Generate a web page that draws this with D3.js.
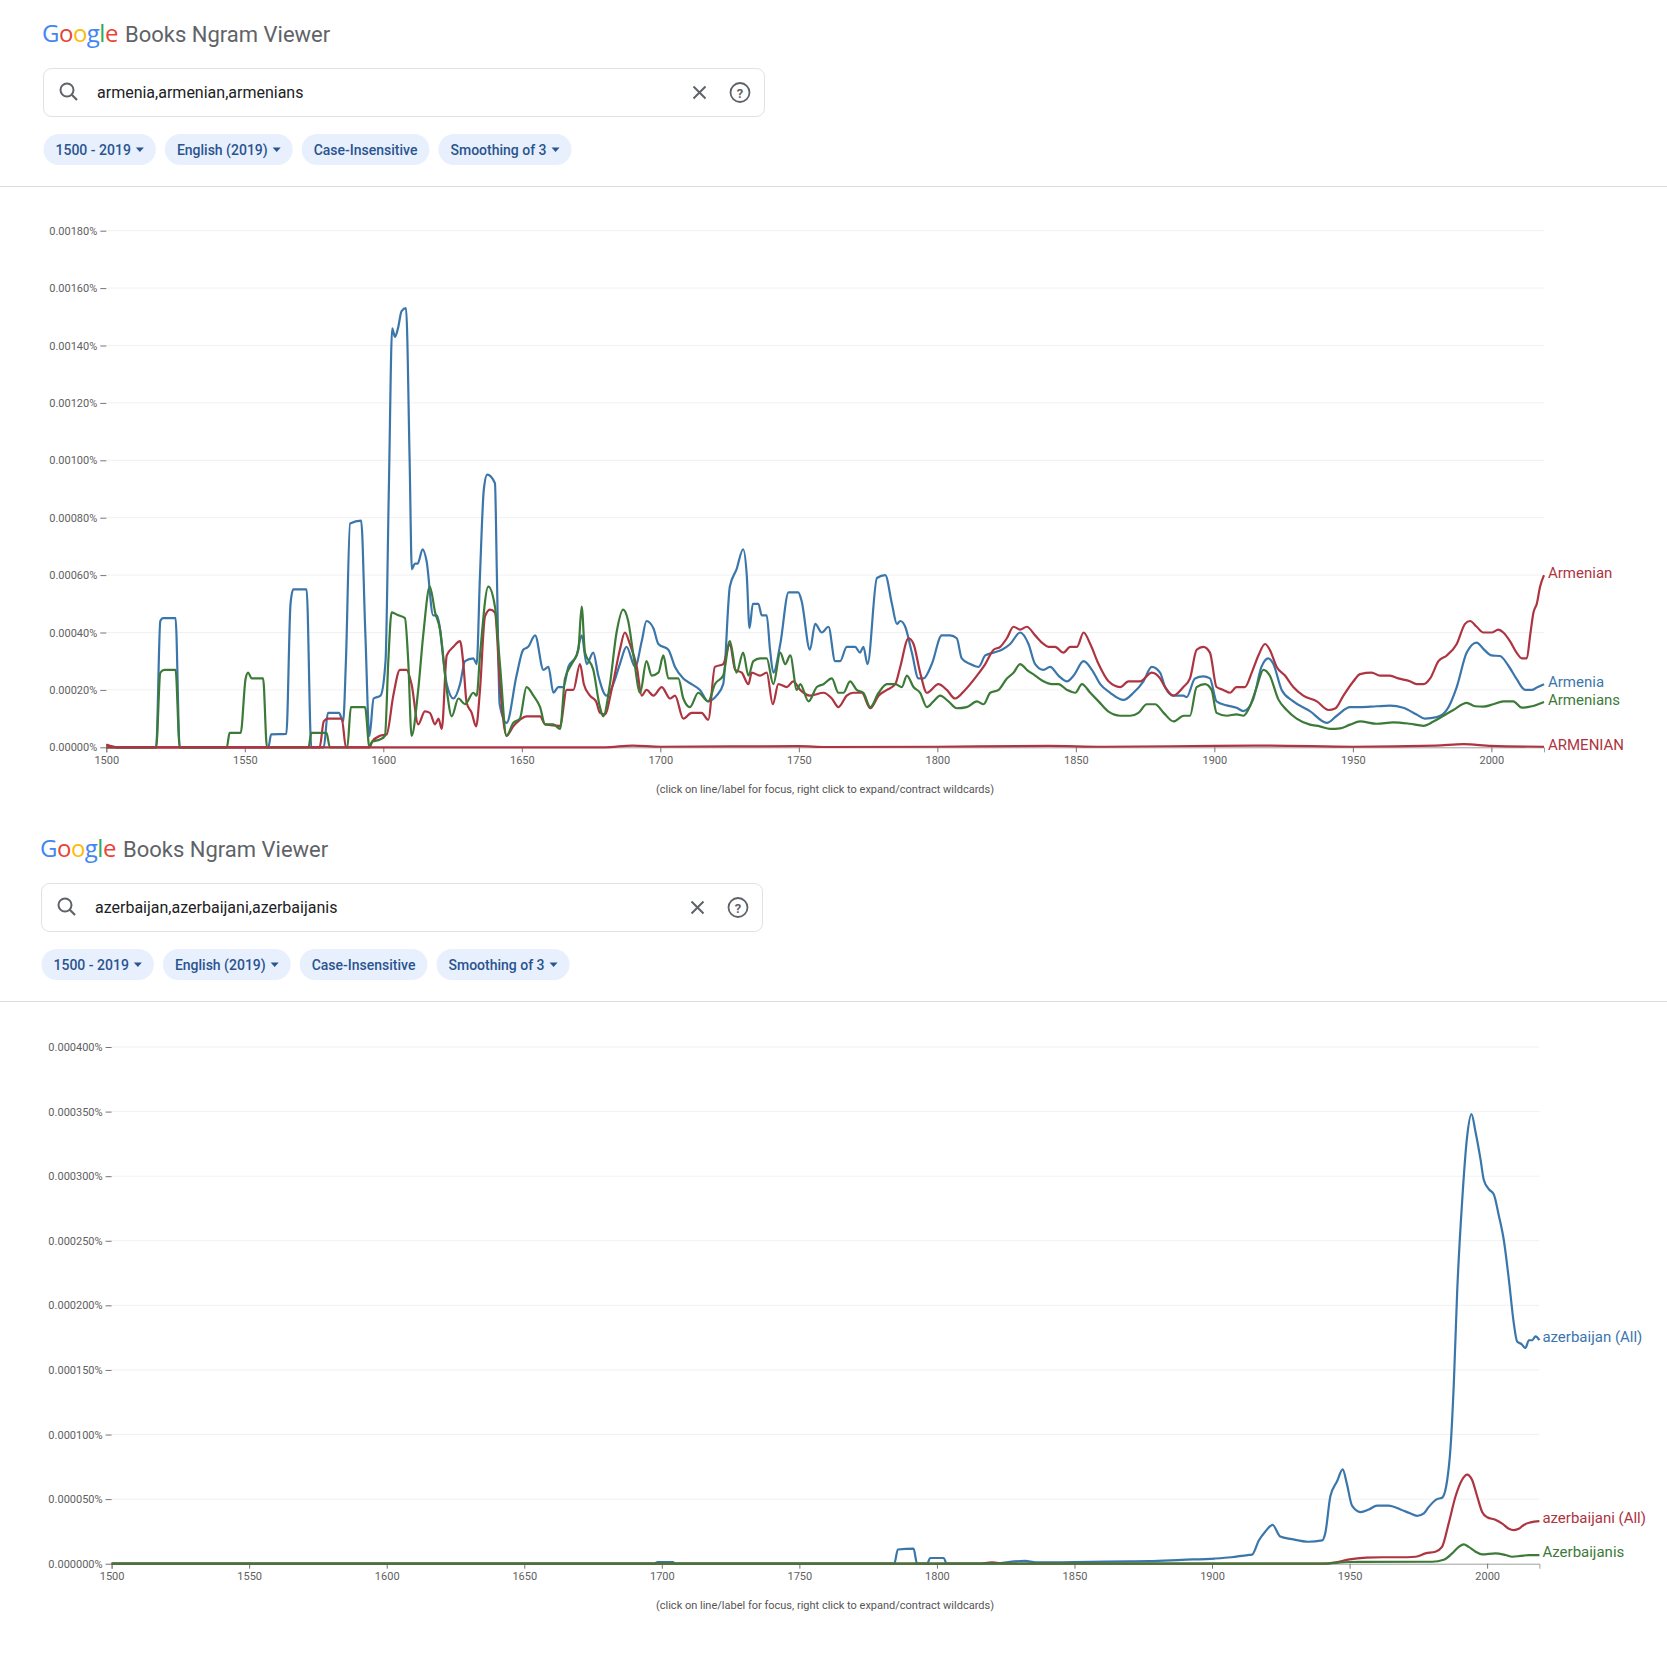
<!DOCTYPE html>
<html>
<head>
<meta charset="utf-8">
<script src="https://cdn.jsdelivr.net/npm/d3@7"></script>
<style>
  body { margin: 0; background: #fff; }
  svg { display: block; font-family: Roboto, "Noto Sans", sans-serif; }
</style>
</head>
<body>
<div id="page"></div>
<script>
// ---- data -------------------------------------------------------------
const xTicks = [1500, 1550, 1600, 1650, 1700, 1750, 1800, 1850, 1900, 1950, 2000];
const armTicks = [0, 0.0002, 0.0004, 0.0006, 0.0008, 0.001, 0.0012, 0.0014, 0.0016, 0.0018];
const azeTicks = [0, 0.00005, 0.0001, 0.00015, 0.0002, 0.00025, 0.0003, 0.00035, 0.0004];
const chipLabels = ["1500 - 2019", "English (2019)", "Case-Insensitive", "Smoothing of 3"];
const chipCaret = [true, true, false, true];
const footnote = "(click on line/label for focus, right click to expand/contract wildcards)";

// [year, percent]
const armenia = [[1500,0.000008],[1504,0],[1518,0],[1519.5,0.00044],[1520.5,0.00045],[1525,0.00045],[1526.5,0],[1558.5,0],[1559.5,0.000045],[1565,0.000047],[1566.5,0.0005],[1567.5,0.00055],[1572.3,0.00055],[1574,0],[1578.5,0],[1580,0.00012],[1584,0.00012],[1585.5,0.00009],[1586.5,0.0003],[1588,0.00078],[1592,0.00079],[1593.5,0.0004],[1595,0.00004],[1596.5,0.00017],[1599,0.00018],[1600.8,0.0003],[1602,0.0009],[1603.2,0.00146],[1604.2,0.00143],[1605.3,0.00146],[1606.6,0.00152],[1608.2,0.00153],[1609.5,0.001],[1610.3,0.00062],[1611.4,0.00064],[1612.4,0.00064],[1614.2,0.00069],[1615.6,0.00065],[1618,0.00046],[1619.3,0.00046],[1622.9,0.00022],[1625.3,0.00017],[1627.7,0.00022],[1629.5,0.0003],[1632.5,0.00031],[1633.7,0.00029],[1634.9,0.0006],[1636.3,0.0009],[1637.5,0.00095],[1640.3,0.00092],[1641,0.0006],[1642,0.00015],[1644.5,0.000085],[1648.1,0.00025],[1650.5,0.00034],[1652.3,0.00035],[1654.8,0.00039],[1657.8,0.00027],[1659.6,0.00028],[1661.4,0.00019],[1663.2,0.00021],[1665,0.00021],[1666.8,0.00028],[1669.8,0.00032],[1671.6,0.00039],[1673.4,0.00029],[1675.8,0.00033],[1677.6,0.00025],[1680.6,0.00018],[1683,0.00022],[1685.4,0.00029],[1687.8,0.00035],[1690.9,0.00028],[1693.3,0.00037],[1695,0.00044],[1697.5,0.000415],[1699.3,0.00036],[1702.9,0.00034],[1705.3,0.00028],[1708.3,0.00024],[1711.3,0.00022],[1714.3,0.0002],[1717.3,0.00016],[1720.3,0.00018],[1722.7,0.00022],[1725.1,0.00056],[1727.5,0.00062],[1729.9,0.00069],[1731.2,0.0006],[1732.2,0.000415],[1733.4,0.0005],[1735.4,0.0005],[1736.6,0.00046],[1738.4,0.00046],[1739.6,0.00034],[1740.8,0.00026],[1743.3,0.00036],[1746.3,0.00054],[1749.8,0.00054],[1751,0.00051],[1754,0.00034],[1755.9,0.00043],[1758.3,0.0004],[1760.7,0.00042],[1763.1,0.0003],[1764.9,0.0003],[1767.3,0.00035],[1770.3,0.00035],[1772.1,0.00033],[1773.3,0.00035],[1774.8,0.00029],[1778.2,0.00059],[1781.2,0.0006],[1783.6,0.0005],[1785.4,0.00043],[1786.6,0.00044],[1788.4,0.00042],[1790.8,0.00033],[1793.2,0.00024],[1795,0.00024],[1798,0.00029],[1801.6,0.00039],[1804.6,0.00039],[1807,0.00038],[1808.8,0.00031],[1811.9,0.00029],[1814.9,0.00028],[1817.3,0.00032],[1820.3,0.00033],[1823.3,0.00034],[1826.3,0.00036],[1829.9,0.0004],[1832.9,0.00036],[1835.3,0.00029],[1838.3,0.00027],[1840.7,0.00028],[1843.7,0.00025],[1846.8,0.00023],[1849.2,0.00025],[1852.8,0.0003],[1855.8,0.00027],[1858.8,0.00022],[1862.4,0.00019],[1867.2,0.000165],[1870.8,0.00019],[1874.4,0.00023],[1877.4,0.00028],[1880.4,0.00026],[1882.2,0.00021],[1885.2,0.00018],[1888.8,0.00018],[1890,0.000175],[1893,0.00024],[1896,0.000247],[1898.4,0.00024],[1900.8,0.00016],[1904.5,0.000146],[1908,0.000138],[1910.5,0.000126],[1914,0.000167],[1917,0.00028],[1919.5,0.00031],[1921.3,0.00029],[1924.3,0.0002],[1928.5,0.00016],[1934.5,0.000126],[1940.6,0.000085],[1944.2,0.00011],[1949,0.00014],[1952.6,0.00014],[1958.6,0.000143],[1963.4,0.000145],[1968.2,0.000138],[1973,0.000114],[1976,0.0001],[1980.3,0.000105],[1983.9,0.00013],[1987.5,0.00021],[1991.1,0.00033],[1994.7,0.000365],[1997.1,0.000343],[2000.1,0.00032],[2003.1,0.000318],[2006.1,0.000285],[2009.1,0.000238],[2012.2,0.0002],[2014.6,0.0002],[2016.4,0.000208],[2019,0.00022]];

const armenian = [[1500,0.00001],[1504,0],[1577,0],[1578.5,0.00009],[1580,0.0001],[1585,0.0001],[1586.5,0],[1595,0],[1596,0.00002],[1598.8,0.00004],[1601.2,0.000045],[1603.6,0.00018],[1606,0.00027],[1608.4,0.00027],[1610.2,0.00022],[1612.6,0.00008],[1615,0.000125],[1616.8,0.00012],[1618.7,0.00008],[1619.9,0.0001],[1621.1,0.000064],[1622.9,0.00032],[1625.3,0.00035],[1627.7,0.00037],[1628.9,0.00029],[1630.1,0.000154],[1631.9,0.00012],[1633.5,0.000073],[1634.9,0.0002],[1636.7,0.000456],[1638.5,0.00048],[1640.3,0.00047],[1642.1,0.00022],[1644.5,0.00004],[1646.9,0.000073],[1649.3,0.000096],[1651.7,0.000108],[1656.6,0.000108],[1658.4,0.00008],[1663.8,0.000075],[1666.2,0.0002],[1668.6,0.0002],[1671,0.00029],[1672.4,0.00022],[1674.6,0.00018],[1676.8,0.00016],[1678.2,0.00012],[1680,0.000115],[1682.4,0.0002],[1685.4,0.00034],[1687.2,0.0004],[1689,0.00036],[1691.5,0.00028],[1693.3,0.00018],[1695,0.0002],[1697.5,0.00018],[1700.5,0.00021],[1703.5,0.00017],[1705.3,0.00018],[1708.3,0.0001],[1711.3,0.00012],[1714.9,0.00012],[1717.3,0.000096],[1719.7,0.00028],[1722.7,0.00029],[1725.1,0.00036],[1727,0.00027],[1729.4,0.00026],[1731.8,0.00022],[1733,0.00026],[1736,0.00025],[1738.4,0.00026],[1740.6,0.00015],[1742.6,0.00022],[1745.7,0.00021],[1748,0.00023],[1750.5,0.0002],[1754,0.00018],[1758.9,0.00019],[1761.9,0.00017],[1764.3,0.00014],[1767.3,0.00018],[1769.7,0.00019],[1772.7,0.00019],[1775.8,0.000136],[1778.8,0.00018],[1781.8,0.0002],[1784.8,0.00022],[1786.6,0.00028],[1789.6,0.00038],[1791.4,0.00036],[1793.8,0.00026],[1796.2,0.00019],[1800.4,0.00022],[1803.4,0.0002],[1806.4,0.00017],[1810,0.0002],[1814.3,0.00025],[1817.3,0.00029],[1820.3,0.00034],[1822.7,0.00035],[1825.1,0.00038],[1827.5,0.00042],[1829.9,0.00041],[1832.3,0.00042],[1835.3,0.00039],[1838.3,0.00036],[1840.1,0.00035],[1842.5,0.00035],[1845.5,0.00033],[1848,0.00035],[1850.4,0.00035],[1852.8,0.0004],[1855.2,0.00036],[1858.2,0.00029],[1861.8,0.00023],[1866,0.00021],[1869,0.00023],[1873.2,0.00023],[1877.4,0.00026],[1880.4,0.00024],[1882.2,0.00021],[1885.2,0.00018],[1888.8,0.00021],[1891.2,0.00024],[1893.6,0.00034],[1896,0.00035],[1898.4,0.00033],[1900.8,0.00021],[1903.2,0.0002],[1905.7,0.00019],[1908,0.00021],[1911,0.00021],[1913.5,0.00026],[1915.9,0.00032],[1918.3,0.00036],[1920,0.00034],[1922.5,0.00028],[1925.5,0.00025],[1928.5,0.00021],[1932.1,0.00018],[1937,0.00016],[1941.2,0.00013],[1943.6,0.000135],[1946.6,0.00018],[1950.2,0.00023],[1952.6,0.000255],[1956.8,0.00026],[1959.8,0.00025],[1963.4,0.00025],[1966.4,0.00024],[1970.6,0.00023],[1973,0.00022],[1975.5,0.00022],[1977.9,0.00024],[1980.9,0.0003],[1983.9,0.00032],[1987.5,0.00036],[1990.5,0.00043],[1992.3,0.00044],[1994.7,0.00042],[1997.1,0.0004],[2000.1,0.0004],[2002.5,0.00041],[2004.3,0.0004],[2006.7,0.00037],[2009.1,0.00033],[2011,0.00031],[2012.8,0.00031],[2014,0.00039],[2015.2,0.00047],[2016.4,0.0005],[2017.6,0.00056],[2019,0.0006]];

const armenians = [[1500,0],[1518,0],[1519.5,0.00026],[1521,0.00027],[1525,0.00027],[1526.5,0],[1543.5,0],[1544.5,0.00005],[1548.5,0.00005],[1550.3,0.00024],[1551.2,0.00026],[1552.5,0.00024],[1556.6,0.00024],[1558,0],[1573,0],[1574,0.00005],[1579.5,0.00005],[1580.7,0],[1587,0],[1588.3,0.00014],[1593.4,0.00014],[1595,0],[1596,0.00002],[1598.8,0.000027],[1600.6,0.00004],[1601.8,0.0003],[1603,0.00047],[1605.4,0.00046],[1607.8,0.00045],[1609,0.0003],[1610.2,0.00004],[1612.6,0.0002],[1614.4,0.00039],[1616.8,0.00056],[1618.7,0.00047],[1620.5,0.00041],[1622.9,0.0002],[1624.7,0.000108],[1627.1,0.00017],[1629.5,0.00015],[1632.5,0.00019],[1633.7,0.00018],[1634.9,0.00032],[1637.9,0.00056],[1640.3,0.00049],[1642.1,0.00029],[1644.5,0.00004],[1646.9,0.000085],[1649.3,0.0001],[1651.7,0.00021],[1654.2,0.00018],[1656.6,0.00014],[1658.4,0.00008],[1661.4,0.00008],[1663.8,0.000064],[1665.6,0.00024],[1668,0.00029],[1670.4,0.00034],[1671.6,0.00049],[1672.8,0.00033],[1675.8,0.00027],[1678.2,0.00014],[1679.4,0.000108],[1681.8,0.00022],[1684.2,0.0004],[1686.6,0.00048],[1688.4,0.00044],[1690.3,0.00032],[1692.7,0.00019],[1695,0.0003],[1696.9,0.00025],[1699.3,0.00026],[1701.1,0.00032],[1702.9,0.00024],[1706.5,0.00024],[1708.3,0.00017],[1710.7,0.00014],[1713.7,0.00019],[1717.3,0.00016],[1719.7,0.00022],[1722.7,0.00025],[1725.1,0.00037],[1727.5,0.00026],[1729.9,0.00033],[1731.8,0.00025],[1733.6,0.0003],[1736,0.00031],[1738.4,0.00031],[1740.8,0.00022],[1743.3,0.00033],[1745.1,0.00029],[1746.9,0.00032],[1749.3,0.0002],[1750.5,0.00022],[1753.5,0.00016],[1756.5,0.00021],[1758.9,0.00022],[1761.9,0.00024],[1764.3,0.00019],[1766.1,0.00019],[1768.5,0.00023],[1770.9,0.0002],[1773.3,0.00019],[1775.8,0.00014],[1778.8,0.00019],[1781.8,0.00022],[1784.8,0.00022],[1787.2,0.00021],[1789,0.00025],[1791.4,0.00021],[1793.8,0.00019],[1796.2,0.00014],[1798.6,0.00016],[1801,0.00018],[1804,0.00016],[1807,0.000136],[1810.6,0.00014],[1814.3,0.00016],[1816.7,0.00015],[1819.1,0.00019],[1822.1,0.0002],[1825.1,0.00024],[1827.5,0.00026],[1829.9,0.00029],[1832.3,0.00027],[1835.3,0.00025],[1838.3,0.00023],[1841.3,0.00022],[1843.7,0.00022],[1846.8,0.0002],[1849.8,0.00019],[1852.2,0.00022],[1855.2,0.00019],[1858.2,0.00016],[1861.8,0.000124],[1866,0.00011],[1869.6,0.00011],[1872.6,0.00012],[1875.6,0.00015],[1878.6,0.00015],[1881.7,0.00012],[1885.3,0.00009],[1888.9,0.00011],[1891.2,0.00011],[1893.6,0.00021],[1896.6,0.00022],[1899,0.0002],[1900.8,0.00012],[1904.5,0.00011],[1908,0.000115],[1910.5,0.00011],[1912.9,0.000144],[1915.3,0.00021],[1917.7,0.00027],[1920,0.00025],[1923.1,0.000167],[1926.1,0.00013],[1929.7,0.0001],[1934.5,0.000079],[1938.1,0.000073],[1941.8,0.000064],[1945.4,0.000066],[1949,0.000079],[1952.6,0.00009],[1958.6,0.000082],[1964.6,0.000087],[1970.6,0.000082],[1975.5,0.000075],[1979.1,0.00009],[1982.7,0.00011],[1986.3,0.00013],[1991.1,0.000155],[1994.1,0.000143],[1997.1,0.000142],[2000.7,0.00015],[2004.3,0.00016],[2007.9,0.00016],[2011,0.000138],[2014.6,0.000143],[2019,0.000158]];

const armenianUpper = [[1500,0],[1680,0],[1690,0.000006],[1700,0.000002],[1750,0.000004],[1760,0.000001],[1800,0.000002],[1840,0.000005],[1860,0.000002],[1900,0.000005],[1920,0.000006],[1950,0.000002],[1980,0.000006],[1990,0.000011],[2000,0.000005],[2019,0.000002]];

const azerbaijan = [[1500,0],[1697,0],[1698.5,0.0000012],[1704,0.0000012],[1705,0],[1784.5,0],[1785.8,0.000011],[1791.5,0.0000116],[1792.8,0],[1796.5,0],[1797.5,0.0000044],[1802.5,0.0000044],[1803.5,0],[1820,0],[1828,0.0000018],[1832,0.0000022],[1836,0.000001],[1850,0.0000012],[1870,0.0000018],[1877,0.000002],[1889,0.000003],[1901,0.000004],[1907,0.000005],[1913,0.0000067],[1914.5,0.000007],[1917,0.000018],[1919.4,0.000025],[1922,0.00003],[1924.8,0.000021],[1929,0.000019],[1935,0.000017],[1940,0.000018],[1941.2,0.000024],[1943,0.000052],[1945.5,0.000064],[1947.5,0.000073],[1949,0.000062],[1950.9,0.000045],[1954,0.00004],[1957,0.000042],[1960,0.000045],[1964.2,0.000045],[1968.5,0.000042],[1972,0.000039],[1974.5,0.000037],[1977,0.000039],[1978.8,0.000044],[1981.8,0.00005],[1983.6,0.000051],[1985.5,0.000065],[1986.7,0.00009],[1987.9,0.00014],[1989.1,0.00021],[1990.9,0.00028],[1992.7,0.00033],[1994.3,0.000348],[1995.8,0.000334],[1997.6,0.000313],[1998.8,0.000297],[2000.6,0.00029],[2002.4,0.000286],[2004.2,0.00027],[2006.1,0.00025],[2007.9,0.00022],[2009.7,0.000186],[2010.9,0.000172],[2012.5,0.00017],[2013.9,0.000167],[2015.2,0.000173],[2016.4,0.000173],[2017.6,0.000176],[2019,0.000173]];

const azerbaijani = [[1500,0],[1815,0],[1820,0.000001],[1825,0],[1940,0],[1945,0.000001],[1950,0.0000034],[1956,0.0000047],[1962,0.000005],[1968,0.000005],[1974,0.0000054],[1977.6,0.000008],[1981.2,0.0000093],[1983.6,0.000013],[1986,0.000031],[1988.5,0.000052],[1990.9,0.000065],[1992.7,0.000069],[1994.5,0.000065],[1996.4,0.000052],[1998.2,0.00004],[2000,0.000036],[2003,0.000034],[2005.5,0.000031],[2007.9,0.000027],[2009.7,0.000026],[2011.5,0.000027],[2013.3,0.00003],[2015.8,0.000032],[2019,0.000033]];

const azerbaijanis = [[1500,0],[1940,0],[1950,0.0000013],[1980,0.0000015],[1984.2,0.000003],[1987.3,0.000008],[1989.7,0.000013],[1991.5,0.000015],[1993.3,0.000013],[1995.8,0.0000093],[1998.2,0.0000072],[2003,0.000008],[2006.7,0.0000067],[2009.1,0.0000054],[2012.1,0.000006],[2015.2,0.0000067],[2019,0.0000067]];

// ---- colours ----------------------------------------------------------
const BLUE = "#3b76ab", RED = "#ad3440", GREEN = "#3c7a38";

let svg = d3.select("#page").append("svg")
    .attr("width", 1667)
    .attr("height", 1660);

function drawHeader(dx, dy, query) {
    let g = svg.append("g").attr("transform", "translate(" + dx + "," + dy + ")");

    let logo = g.append("text").attr("x", 42).attr("y", 42)
        .style("font-size", "24px").style("font-family", "'Open Sans', Roboto, sans-serif")
        .style("letter-spacing", "-0.5px");
    [["G", "#4285F4"], ["o", "#EA4335"], ["o", "#FBBC05"], ["g", "#4285F4"], ["l", "#34A853"], ["e", "#EA4335"]]
        .forEach(function(c) { logo.append("tspan").attr("fill", c[1]).text(c[0]); });

    g.append("text").attr("x", 125).attr("y", 42)
        .style("font-size", "22px").attr("fill", "#5f6368")
        .text("Books Ngram Viewer");

    // search box
    g.append("rect").attr("x", 43.5).attr("y", 68.5).attr("width", 721).attr("height", 48)
        .attr("rx", 8).attr("fill", "#fff").attr("stroke", "#dfe1e5");
    g.append("circle").attr("cx", 67).attr("cy", 90).attr("r", 6.5)
        .attr("fill", "none").attr("stroke", "#5f6368").attr("stroke-width", 2);
    g.append("line").attr("x1", 71.8).attr("y1", 94.8).attr("x2", 77).attr("y2", 100)
        .attr("stroke", "#5f6368").attr("stroke-width", 2.2);
    g.append("text").attr("x", 97).attr("y", 98)
        .style("font-size", "16px").attr("fill", "#202124").text(query);
    g.append("path").attr("d", "M693.5,86.5L705.5,98.5M705.5,86.5L693.5,98.5")
        .attr("stroke", "#5f6368").attr("stroke-width", 2);
    g.append("circle").attr("cx", 740).attr("cy", 92.5).attr("r", 9.5)
        .attr("fill", "none").attr("stroke", "#5f6368").attr("stroke-width", 1.8);
    g.append("text").attr("x", 740).attr("y", 97.5).attr("text-anchor", "middle")
        .style("font-size", "13px").style("font-weight", "bold").attr("fill", "#5f6368").text("?");

    // chips
    let cx = 43.5;
    chipLabels.forEach(function(label, i) {
        let chip = g.append("g");
        let bg = chip.append("rect").attr("y", 134).attr("height", 31).attr("rx", 15.5)
            .attr("fill", "#e8f0fe");
        let t = chip.append("text").attr("x", cx + 12).attr("y", 154.5)
            .style("font-size", "14px").style("font-weight", 500).attr("fill", "#2a548f")
            .text(label);
        let w = t.node().getComputedTextLength();
        let width = 12 + w + 12;
        if (chipCaret[i]) {
            let ax = cx + 12 + w + 5;
            chip.append("path").attr("d", "M" + ax + ",147.5l8,0l-4,4.5z").attr("fill", "#2a548f");
            width += 13;
        }
        bg.attr("x", cx).attr("width", width);
        cx += width + 9;
    });

    svg.append("line").attr("x1", 0).attr("x2", 1667)
        .attr("y1", dy + 186.5).attr("y2", dy + 186.5)
        .attr("stroke", "#dadce0");
}

function drawChart(opt) {
    let x = d3.scaleLinear().domain([1500, 2019]).range([opt.left, opt.right]);
    let y = d3.scaleLinear().domain([0, opt.max]).range([opt.bottom, opt.top]);
    let fmt = d3.format(opt.fmt);

    let g = svg.append("g");

    g.selectAll(".grid").data(opt.ticks.slice(1)).enter().append("line")
        .attr("x1", opt.left).attr("x2", opt.right)
        .attr("y1", function(d) { return y(d); }).attr("y2", function(d) { return y(d); })
        .attr("stroke", "#f1f1f1");

    let yAxis = g.append("g").attr("transform", "translate(" + opt.left + ",0)")
        .call(d3.axisLeft(y).tickValues(opt.ticks).tickSize(6).tickPadding(3)
            .tickFormat(function(d) { return fmt(d) + "%"; }));
    yAxis.select(".domain").remove();

    let xAxis = g.append("g").attr("transform", "translate(0," + opt.bottom + ")")
        .call(d3.axisBottom(x).tickValues(xTicks).tickSize(5).tickPadding(4)
            .tickFormat(d3.format("d")));
    xAxis.select(".domain").attr("stroke", "#9e9e9e");

    g.selectAll(".tick text").attr("fill", "#616161")
        .style("font-size", "11px").style("font-family", "Roboto, sans-serif");
    g.selectAll(".tick line").attr("stroke", "#757575");

    let line = d3.line()
        .x(function(d) { return x(d[0]); })
        .y(function(d) { return y(d[1]); })
        .curve(d3.curveMonotoneX);

    opt.series.forEach(function(s) {
        g.append("path").datum(s.data)
            .attr("d", line)
            .attr("fill", "none")
            .attr("stroke", s.color)
            .attr("stroke-width", 2.2)
            .attr("stroke-linejoin", "round");
        let last = s.data[s.data.length - 1];
        g.append("text")
            .attr("x", x(last[0]) + opt.labelGap)
            .attr("y", y(last[1]) + opt.labelShift)
            .attr("dy", "0.35em")
            .attr("fill", s.color)
            .style("font-size", "15px")
            .text(s.name);
    });

    g.append("text").attr("x", 825).attr("y", opt.footY)
        .attr("text-anchor", "middle").attr("fill", "#555")
        .style("font-size", "11px").text(footnote);
}

drawHeader(0, 0, "armenia,armenian,armenians");
drawChart({
    left: 106.3, right: 1544, top: 230.7, bottom: 747.3,
    max: 0.0018, ticks: armTicks, fmt: ".5f",
    labelGap: 4, labelShift: -2, footY: 793,
    series: [
        { name: "Armenia", data: armenia, color: BLUE },
        { name: "Armenian", data: armenian, color: RED },
        { name: "Armenians", data: armenians, color: GREEN },
        { name: "ARMENIAN", data: armenianUpper, color: RED }
    ]
});

drawHeader(-2, 815, "azerbaijan,azerbaijani,azerbaijanis");
drawChart({
    left: 111.6, right: 1539.4, top: 1047, bottom: 1563.7,
    max: 0.0004, ticks: azeTicks, fmt: ".6f",
    labelGap: 3, labelShift: -3, footY: 1609,
    series: [
        { name: "azerbaijan (All)", data: azerbaijan, color: BLUE },
        { name: "azerbaijani (All)", data: azerbaijani, color: RED },
        { name: "Azerbaijanis", data: azerbaijanis, color: GREEN }
    ]
});
</script>
</body>
</html>
